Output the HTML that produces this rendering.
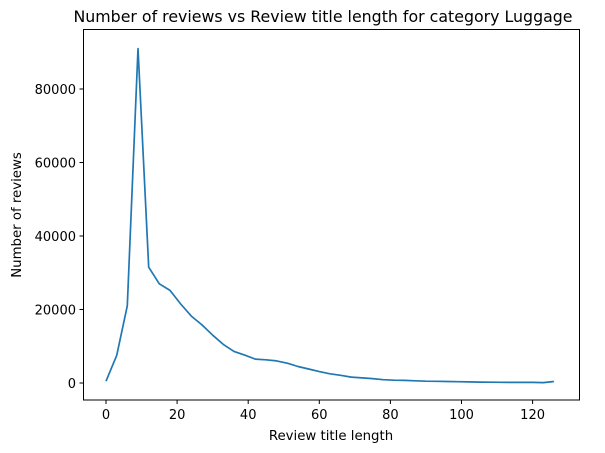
<!DOCTYPE html>
<html><head><meta charset="utf-8"><style>
body{margin:0;background:#fff;}
svg{display:block;font-family:"DejaVu Sans","Liberation Sans",sans-serif;}
</style></head><body>
<svg id="chart" width="605" height="453">
<rect x="0" y="0" width="605" height="453" fill="#fff"/>
<text x="323" y="22" text-anchor="middle" font-size="15.8" fill="#000">Number of reviews vs Review title length for category Luggage</text>
<text x="331" y="440" text-anchor="middle" font-size="13.3" fill="#000">Review title length</text>
<text transform="translate(21,215) rotate(-90)" text-anchor="middle" font-size="13.3" fill="#000">Number of reviews</text>
<g id="ticks"></g>
<path id="line" fill="none" stroke="#1f77b4" stroke-width="1.7" stroke-linejoin="round"/>
<rect x="83.5" y="29.5" width="496" height="370.5" fill="none" stroke="#000" stroke-width="1"/>
</svg>
<script>
const titleLengths=[0,3,6,9,12,15,18,21,24,27,30,33,36,39,42,45,48,51,54,57,60,63,66,69,72,75,78,81,84,87,90,93,96,99,102,105,108,111,114,117,120,123,126];
const reviewCounts=[500,7500,21000,91000,31500,27000,25200,21500,18200,15800,13000,10500,8600,7600,6500,6300,6000,5400,4500,3800,3100,2500,2100,1600,1400,1200,900,750,700,600,500,450,400,350,300,250,220,200,150,150,150,100,400];
const xTicks=[0,20,40,60,80,100,120];
const yTicks=[0,20000,40000,60000,80000];
const xS=v=>106+v*3.555;
const yS=v=>383-v*0.003675;
const NS="http://www.w3.org/2000/svg";
document.getElementById('line').setAttribute('d',titleLengths.map((x,i)=>(i?'L':'M')+xS(x).toFixed(1)+','+yS(reviewCounts[i]).toFixed(1)).join(''));
const g=document.getElementById('ticks');
xTicks.forEach(t=>{
 const l=document.createElementNS(NS,'line');
 l.setAttribute('x1',xS(t));l.setAttribute('x2',xS(t));l.setAttribute('y1',400);l.setAttribute('y2',404);l.setAttribute('stroke','#000');
 
 
 g.appendChild(l);
 const tx=document.createElementNS(NS,'text');
 tx.setAttribute('x',xS(t));tx.setAttribute('y',419);tx.setAttribute('text-anchor','middle');tx.setAttribute('font-size','13');
 tx.textContent=t;
 
 
 g.appendChild(tx);
});
yTicks.forEach(t=>{
 const l=document.createElementNS(NS,'line');
 l.setAttribute('x1',79.5);l.setAttribute('x2',83.5);l.setAttribute('y1',yS(t));l.setAttribute('y2',yS(t));l.setAttribute('stroke','#000');
 
 
 g.appendChild(l);
 const tx=document.createElementNS(NS,'text');
 tx.setAttribute('x',76);tx.setAttribute('y',yS(t)+5);tx.setAttribute('text-anchor','end');tx.setAttribute('font-size','13');
 tx.textContent=t;
 
 
 g.appendChild(tx);
});
</script>
</body></html>
